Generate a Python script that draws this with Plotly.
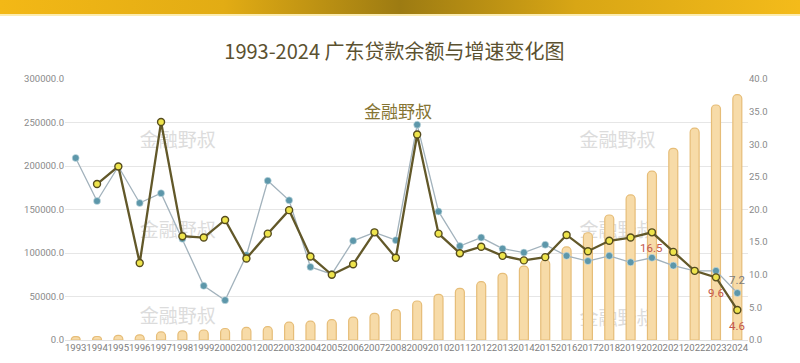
import base64
import plotly.graph_objects as go

# ---------------- data ----------------
years = list(range(1993, 2025))
year_labels = [str(y) for y in years]

# 广东贷款余额（左轴）
loan_balance = [3800, 4000, 5400, 5900, 9300, 10500, 11500, 13200, 14400, 15300,
                20500, 21600, 23400, 26300, 30700, 35000, 44800, 52500, 59400, 67000,
                76600, 85000, 92000, 107000, 123300, 143700, 166700, 194000, 220300, 243500,
                270100, 282000]

# 广东贷款增速（右轴，橄榄色线）
gd_growth = [None, 23.9, 26.6, 11.8, 33.4, 15.9, 15.7, 18.4, 12.5, 16.3,
             19.9, 12.8, 10.0, 11.6, 16.5, 12.6, 31.5, 16.3, 13.3, 14.3,
             12.9, 12.2, 12.7, 16.1, 13.6, 15.2, 15.7, 16.5, 13.5, 10.6,
             9.6, 4.6]

# 对比增速（右轴，蓝色点线）
cmp_growth = [27.9, 21.3, 26.6, 21.0, 22.5, 15.5, 8.3, 6.1, 13.0, 24.4,
              21.4, 11.2, 10.1, 15.2, 16.5, 15.3, 33.0, 19.7, 14.4, 15.7,
              14.0, 13.4, 14.6, 12.9, 12.1, 12.9, 11.9, 12.6, 11.4, 10.6,
              10.6, 7.2]

gd_label_years = [2020, 2023, 2024]
gd_label_text = ["16.5", "9.6", "4.6"]
cmp_label_years = [2024]
cmp_label_text = ["7.2"]

left_ticks = [0, 50000, 100000, 150000, 200000, 250000, 300000]
right_ticks = [0, 5, 10, 15, 20, 25, 30, 35, 40]

title_text = "1993-2024 广东贷款余额与增速变化图"
watermark = "金融野叔"

# ---------------- figure ----------------
fig = go.Figure()

# watermarks (placed on hidden base axis so they sit beneath the bars)
wm_fx = [0.165, 0.165, 0.165, 0.809, 0.809, 0.809, 0.4876]
wm_fy = [0.759, 0.414, 0.084, 0.759, 0.414, 0.077, 0.868]
wm_col = ["#dcdcdc"] * 6 + ["#857433"]
wm_size = [19] * 6 + [17]
fig.add_trace(go.Scatter(
    x=[1992.5 + f * 32 for f in wm_fx], y=wm_fy, mode="text",
    text=[watermark] * len(wm_fx),
    textfont=dict(family="Noto Sans CJK SC", size=wm_size, color=wm_col),
    xaxis="x", yaxis="y", hoverinfo="skip", cliponaxis=False))

fig.add_trace(go.Bar(
    x=years, y=loan_balance, width=0.42, yaxis="y2",
    marker=dict(color="#f7dba8", line=dict(color="#e6bd78", width=1.2), cornerradius=4),
    hoverinfo="skip"))

fig.add_trace(go.Scatter(
    x=years, y=cmp_growth, yaxis="y3", mode="lines+markers",
    line=dict(color="#a2b2bc", width=1.3),
    marker=dict(size=7, color="#5d97aa", line=dict(color="#cfe0e6", width=0.6)),
    hoverinfo="skip", cliponaxis=False))

fig.add_trace(go.Scatter(
    x=years, y=gd_growth, yaxis="y3", mode="lines+markers",
    line=dict(color="#625829", width=2.3),
    marker=dict(size=7, color="#eee44c", line=dict(color="#564c1e", width=1.4)),
    hoverinfo="skip", cliponaxis=False))

# value labels as annotations tied to the data points
for yr, txt in zip(gd_label_years, gd_label_text):
    fig.add_annotation(x=yr, y=gd_growth[years.index(yr)], xref="x", yref="y3",
                       text=txt, showarrow=False, xanchor="center", yanchor="top",
                       yshift=-7, font=dict(family="Roboto", size=11.5, color="#c4574c"))
for yr, txt in zip(cmp_label_years, cmp_label_text):
    fig.add_annotation(x=yr, y=cmp_growth[years.index(yr)], xref="x", yref="y3",
                       text=txt, showarrow=False, xanchor="center", yanchor="bottom",
                       yshift=4, font=dict(family="Roboto", size=11.5, color="#7a7a7a"))

# gold banner at top
svg = ('<svg xmlns="http://www.w3.org/2000/svg" width="800" height="16" preserveAspectRatio="none">'
       '<defs><linearGradient id="g" x1="0" y1="0" x2="1" y2="0">'
       '<stop offset="0" stop-color="#f3b816"/><stop offset="0.28" stop-color="#e2ac14"/>'
       '<stop offset="0.5" stop-color="#9d7b12"/><stop offset="0.72" stop-color="#d8a615"/>'
       '<stop offset="1" stop-color="#f4bb1a"/></linearGradient></defs>'
       '<rect x="0" y="0" width="800" height="14" fill="url(#g)"/>'
       '<rect x="0" y="14" width="800" height="2" fill="#fcecb0"/></svg>')
src = "data:image/svg+xml;base64," + base64.b64encode(svg.encode()).decode()
fig.add_layout_image(dict(source=src, xref="paper", yref="paper",
                          x=-65 / 683, y=340 / 261, sizex=800 / 683, sizey=16 / 261,
                          xanchor="left", yanchor="top", sizing="stretch", layer="above"))

tickfont = dict(family="Roboto", size=9.5, color="#8a8a8a")
fig.update_layout(
    width=800, height=363,
    margin=dict(l=65, r=52, t=79, b=23, autoexpand=False),
    paper_bgcolor="white", plot_bgcolor="white",
    showlegend=False, hovermode=False,
    title=dict(text=title_text, x=0.493, xref="container", xanchor="center",
               y=1 - 52 / 363, yref="container", yanchor="middle",
               font=dict(family="Noto Sans CJK SC", size=20, color="#5b5130")),
    xaxis=dict(range=[1992.5, 2024.5], tickvals=years, ticktext=year_labels,
               tickangle=0,
               tickfont=dict(family="Roboto", size=9.6, color="#808080"),
               showgrid=False, zeroline=False, showline=False, ticks=""),
    yaxis=dict(range=[0, 1], visible=False, fixedrange=True),
    yaxis2=dict(overlaying="y", side="left", anchor="x", range=[0, 300000],
                tickvals=left_ticks, tickformat=".1f", tickfont=tickfont,
                showgrid=True, gridcolor="#e6e6e6", gridwidth=1,
                zeroline=True, zerolinecolor="#e0e0e0", zerolinewidth=1),
    yaxis3=dict(overlaying="y", side="right", anchor="x", range=[0, 40],
                tickvals=right_ticks, tickformat=".1f", tickfont=tickfont,
                showgrid=False, zeroline=False),
)

fig.write_html("out.html", config={"displayModeBar": False, "staticPlot": True},
               post_script="document.body.style.margin='0';document.body.style.padding='0';")
